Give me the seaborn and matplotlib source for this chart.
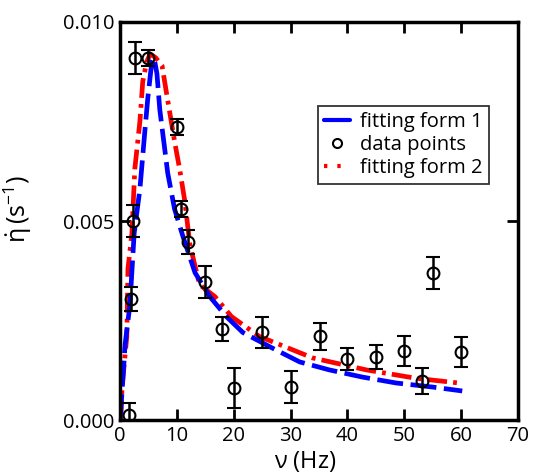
import matplotlib
matplotlib.use("Agg")
import matplotlib.pyplot as plt
import seaborn as sns
import pandas as pd
from matplotlib.lines import Line2D

# data points
nu_data = [1.5, 2.0, 2.3, 2.6, 4.9, 10.0, 10.8, 11.9, 14.9, 17.9, 20.0, 24.9, 30.0,
           35.1, 40.0, 45.0, 50.0, 53.2, 55.0, 60.0]
eta_data = [0.00013, 0.00304, 0.0050, 0.0091, 0.0091, 0.00736, 0.0053, 0.00447, 0.00347,
            0.00229, 0.0008, 0.0022, 0.00083, 0.0021, 0.00153, 0.00158, 0.00173, 0.00098,
            0.0037, 0.0017]
eta_err = [0.0003, 0.0003, 0.0004, 0.0004, 0.0002, 0.0002, 0.0002, 0.0003, 0.0004,
           0.0003, 0.0005, 0.0004, 0.0004, 0.00034, 0.00027, 0.0003, 0.00038, 0.00033,
           0.0004, 0.00038]

# fitting form 1
nu_fit1 = [0.0, 0.35, 0.9, 1.75, 2.5, 3.5, 4.4, 4.9, 5.6, 6.0, 6.5, 7.0, 8.4, 9.6, 11.1,
           13.2, 15.8, 18.7, 21.6, 26.9, 31.6, 36.8, 42.6, 48.6, 54.9, 60.2]
eta_fit1 = [0.0, 0.00068, 0.0019, 0.0029, 0.0047, 0.0058, 0.0073, 0.0081, 0.0090, 0.0091,
            0.0087, 0.0078, 0.0062, 0.0053, 0.0046, 0.0037, 0.0031, 0.0026, 0.0022, 0.0018,
            0.00146, 0.00126, 0.00108, 0.00093, 0.00083, 0.00073]

# fitting form 2
nu_fit2 = [0.15, 0.35, 1.2, 1.4, 2.1, 2.6, 3.5, 4.0, 4.7, 5.3, 6.3, 7.4, 8.2, 9.6, 10.5,
           11.4, 12.3, 14.0, 16.7, 19.6, 24.5, 28.0, 33.9, 43.3, 52.0, 59.6]
eta_fit2 = [0.0, 0.0008, 0.0021, 0.0038, 0.0047, 0.0063, 0.0075, 0.0085, 0.0090, 0.0092,
            0.0091, 0.0089, 0.0082, 0.0070, 0.0063, 0.0055, 0.0044, 0.0034, 0.0031, 0.0026,
            0.0021, 0.0019, 0.00156, 0.00126, 0.00105, 0.00093]

xticks = [0, 10, 20, 30, 40, 50, 60, 70]
yticks = [0.000, 0.005, 0.010]
ytick_labels = ["0.000", "0.005", "0.010"]

sns.set_style("ticks", {"axes.edgecolor": "black", "xtick.color": "black",
                        "ytick.color": "black", "text.color": "black",
                        "axes.labelcolor": "black"})
plt.rcParams["font.family"] = ["Open Sans", "DejaVu Sans"]
plt.rcParams["mathtext.fontset"] = "custom"
plt.rcParams["mathtext.rm"] = "Open Sans"
plt.rcParams["mathtext.it"] = "Open Sans"

fig = plt.figure(figsize=(5.34, 4.73), dpi=100)
ax = fig.add_axes([0.2247, 0.112, 0.7453, 0.8415])

df1 = pd.DataFrame({"nu": nu_fit1, "eta": eta_fit1})
df2 = pd.DataFrame({"nu": nu_fit2, "eta": eta_fit2})

sns.lineplot(data=df2, x="nu", y="eta", ax=ax, color="#ff0000", lw=3.4, sort=False,
             estimator=None)
ax.lines[-1].set_dashes([4.2, 1.3, 0.8, 1.3])
ax.lines[-1].set_dash_capstyle("butt")
sns.lineplot(data=df1, x="nu", y="eta", ax=ax, color="#0000ff", lw=3.4, sort=False,
             estimator=None)
ax.lines[-1].set_dashes([5.5, 1.6])
ax.lines[-1].set_dash_capstyle("butt")

ax.errorbar(nu_data, eta_data, yerr=eta_err, fmt="o", mfc="none", mec="black",
            ecolor="black", ms=8.5, mew=1.5, elinewidth=1.8, capsize=5, capthick=1.8,
            zorder=5)

ax.set_xlim(0, 70)
ax.set_ylim(0, 0.010)
ax.set_xticks(xticks)
ax.set_yticks(yticks)
ax.set_yticklabels(ytick_labels)
ax.tick_params(direction="in", length=8, width=2, top=True, right=True,
               labelsize=14.5, pad=4, colors="black")
for s in ax.spines.values():
    s.set_linewidth(2.5)
    s.set_visible(True)
    s.set_color("black")

ax.set_xlabel(r"$\nu$ (Hz)", fontsize=17, labelpad=0)
ax.xaxis.set_label_coords(0.465, -0.072, transform=ax.transAxes)
ax.xaxis.label.set_va("top")
ax.set_ylabel(r"$\dot{\eta}\,$(s$^{-1}$)", fontsize=18, labelpad=2)
ax.yaxis.set_label_coords(-0.215, 0.53, transform=ax.transAxes)

handles = [Line2D([], [], color="#0000ff", lw=3),
           Line2D([], [], ls="none", marker="o", mfc="none", mec="black", ms=6.5, mew=1.5),
           Line2D([], [], color="#ff0000", lw=3, ls=(0, (0.8, 2.4)))]
labels = ["fitting form 1", "data points", "fitting form 2"]
leg = ax.legend(handles, labels, loc="upper left", bbox_to_anchor=(0.497, 0.789),
                fontsize=14.5, frameon=True, fancybox=False, edgecolor="black",
                handlelength=1.3, handletextpad=0.5, borderpad=0.3, labelspacing=0.15,
                borderaxespad=0)
leg.get_frame().set_linewidth(1.3)

fig.savefig("out.png", dpi=100)
